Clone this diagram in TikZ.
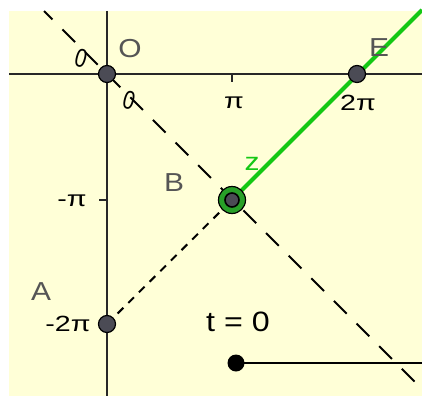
\documentclass[tikz,border=0pt]{standalone}
\usepackage{fontspec}
\usepackage{graphicx}
\setmainfont{Liberation Sans}
\definecolor{bgyellow}{RGB}{255,255,215}
\definecolor{axisc}{RGB}{40,40,40}
\definecolor{lblgray}{RGB}{85,85,85}
\definecolor{ptfill}{RGB}{75,75,85}
\definecolor{zgreen}{RGB}{20,200,20}
\definecolor{ringgreen}{RGB}{40,160,40}
\newcommand{\myhs}[2]{\scalebox{#1}[1]{#2}}
\begin{document}
\begin{tikzpicture}[x=1pt,y=-1pt,
  axisline/.style={draw=axisc, line width=2.4pt},
  longdash/.style={draw=black, line width=2pt, dash pattern=on 18pt off 14pt},
  shortdash/.style={draw=black, line width=2pt, dash pattern=on 8pt off 7pt},
  zline/.style={draw=zgreen, line width=4pt},
  dotpt/.style={circle, fill=ptfill, draw=black, line width=1.2pt, minimum size=17pt, inner sep=0pt},
  bigpt/.style={circle, fill=ringgreen, draw=black, line width=1.2pt, minimum size=27pt, inner sep=0pt},
  innerpt/.style={circle, fill=ptfill, draw=black, line width=1.6pt, minimum size=14pt, inner sep=0pt},
  sliderpt/.style={circle, fill=black, minimum size=17pt, inner sep=0pt},
  lbl/.style={text=lblgray, font=\fontsize{26}{26}\selectfont, inner sep=0pt},
  ticklbl/.style={text=black, font=\fontsize{22}{22}\selectfont, inner sep=0pt},
  zerolbl/.style={text=black, font=\fontsize{26}{26}\selectfont, inner sep=0pt, rotate=-15},
  zlbl/.style={text=zgreen, font=\fontsize{25}{25}\selectfont, inner sep=0pt},
  tlbl/.style={text=black, font=\fontsize{28}{28}\selectfont, inner sep=0pt},
  tickmark/.style={draw=axisc, line width=2pt}]
\useasboundingbox (0,0) rectangle (422,396);
\fill[white] (0,0) rectangle (422,396);
\fill[bgyellow] (9,11) rectangle (422,396);
% coordinates
\coordinate (pO) at (107,74);
\coordinate (pE) at (357,74);
\coordinate (pB) at (232,200);
\coordinate (pA) at (107,324);
\coordinate (pS) at (236,363);
\coordinate (xl) at (9,74);
\coordinate (xr) at (422,74);
\coordinate (yt) at (107,11);
\coordinate (yb) at (107,396);
\coordinate (d1) at (44,11);
\coordinate (d2) at (422,389);
\coordinate (gEnd) at (422,10);
\coordinate (sEnd) at (422,363);
\coordinate (tpi1) at (232,74);
\coordinate (tpi2) at (232,82);
\coordinate (tmpi1) at (107,200);
\coordinate (tmpi2) at (99,200);
% axes
\draw[axisline] (xl) -- (xr);
\draw[axisline] (yt) -- (yb);
\draw[tickmark] (tpi1) -- (tpi2);
\draw[tickmark] (tmpi1) -- (tmpi2);
% dashed lines
\draw[longdash, dash phase=6pt] (d1) -- (d2);
\draw[shortdash] (pA) -- (pB);
% green ray
\draw[zline] (pB) -- (gEnd);
% slider
\draw[draw=black, line width=2.4pt] (pS) -- (sEnd);
% points
\node[dotpt] (O) at (pO) {};
\node[dotpt] (E) at (pE) {};
\node[dotpt] (A) at (pA) {};
\node[bigpt] (B) at (pB) {};
\node[innerpt] (Bin) at (pB) {};
\node[sliderpt] (S) at (pS) {};
% labels
\node[lbl] (lO) at (130,49) {\myhs{1.15}{O}};
\node[lbl] (lE) at (379,48) {\myhs{1.15}{E}};
\node[lbl] (lB) at (174,183) {\myhs{1.15}{B}};
\node[lbl] (lA) at (41,292) {\myhs{1.15}{A}};
\node[zlbl] (lz) at (252,164) {\myhs{1.2}{z}};
\node[zerolbl] (l0a) at (81,58) {\myhs{0.8}{0}};
\node[zerolbl] (l0b) at (129,100) {\myhs{0.8}{0}};
\node[ticklbl] (lpi) at (234,103) {\myhs{1.3}{π}};
\node[ticklbl] (l2pi) at (358,103) {\myhs{1.3}{2π}};
\node[ticklbl] (lmpi) at (72,201) {\myhs{1.3}{-π}};
\node[ticklbl] (lm2pi) at (68,324) {\myhs{1.3}{-2π}};
\node[tlbl] (lt) at (238,322) {\myhs{1.15}{t = 0}};
\end{tikzpicture}
\end{document}
